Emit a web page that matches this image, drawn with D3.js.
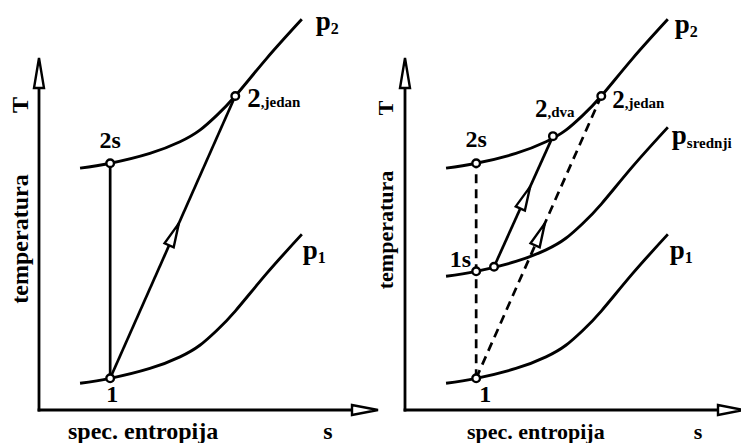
<!DOCTYPE html>
<html>
<head>
<meta charset="utf-8">
<script src="https://cdn.jsdelivr.net/npm/d3@7"></script>
<style>
  body { margin: 0; background: #fff; }
</style>
</head>
<body>
<script>
// isobare u T-s dijagramu (s, T u proizvoljnim jedinicama)
const p2Curve = [[1.24, 6.87], [2.15, 7.01], [3.35, 7.29], [4.26, 7.62], [4.86, 7.95], [5.37, 8.37], [5.93, 8.92], [6.88, 9.99], [7.94, 11.10]];
const pMidCurve = [[1.24, 3.80], [2.15, 3.94], [3.35, 4.22], [4.26, 4.55], [4.86, 4.88], [5.37, 5.30], [5.93, 5.85], [6.88, 6.92], [7.94, 8.03]];
const p1Curve = [[1.24, 0.76], [2.15, 0.90], [3.35, 1.18], [4.26, 1.51], [4.86, 1.84], [5.37, 2.26], [5.93, 2.81], [6.88, 3.88], [7.94, 4.99]];

// stanja
const leftStates = { s1: [2.15, 0.90], s2s: [2.15, 7.01], s2a: [5.93, 8.92] };
const rightStates = { s1: [2.15, 0.90], s1s: [2.15, 3.94], sMid: [2.69, 4.07], s2b: [4.47, 7.78], s2s: [2.15, 7.01], s2a: [5.93, 8.92] };

const axisLabels = { x: "spec. entropija", xUnit: "s", y: "temperatura", yUnit: "T" };

const FONT = "'Liberation Serif', 'Times New Roman', 'DejaVu Serif', serif";
const W = 741, H = 443;
const svg = d3.select("body").append("svg").attr("width", W).attr("height", H);

const y = d3.scaleLinear().domain([0, 10]).range([410, 58]);
const line = d3.line().curve(d3.curveNatural);

function txt(g) {
  return g.append("text").attr("font-family", FONT).attr("font-weight", "bold").attr("fill", "#000");
}

function drawAxes(g, x, fs, lx) {
  const x0 = x(0), y0 = y(0);
  g.append("line").attr("x1", x0).attr("y1", y0 + 1.4).attr("x2", x0).attr("y2", y(10) + 30)
    .attr("stroke", "#000").attr("stroke-width", 2.8);
  g.append("line").attr("x1", x0 - 1.4).attr("y1", y0).attr("x2", x(10) - 19).attr("y2", y0)
    .attr("stroke", "#000").attr("stroke-width", 2.8);
  // otvorene strelice na osima
  g.append("path")
    .attr("d", `M${x0},${y(10)} L${x0 + 5},${y(10) + 30} L${x0 - 5},${y(10) + 30} Z`)
    .attr("fill", "#fff").attr("stroke", "#000").attr("stroke-width", 2.4);
  const xt = x(10) + 8;
  g.append("path")
    .attr("d", `M${xt},${y0} L${xt - 26},${y0 - 5} L${xt - 26},${y0 + 5} Z`)
    .attr("fill", "#fff").attr("stroke", "#000").attr("stroke-width", 2.4);

  txt(g).attr("x", lx.spec).attr("y", 439).style("font-size", fs + "px").text(axisLabels.x);
  txt(g).attr("x", lx.s).attr("y", 439).attr("text-anchor", "middle").style("font-size", fs + "px").text(axisLabels.xUnit);
  txt(g).attr("transform", `translate(${lx.rot},${lx.tY}) rotate(-90)`)
    .attr("text-anchor", "middle").style("font-size", fs + "px").text(axisLabels.yUnit);
  txt(g).attr("transform", `translate(${lx.rot},${lx.tempY}) rotate(-90)`)
    .attr("text-anchor", "middle").style("font-size", fs + "px").text(axisLabels.y);
}

function drawCurve(g, x, data) {
  g.append("path").attr("d", line(data.map(d => [x(d[0]), y(d[1])])))
    .attr("fill", "none").attr("stroke", "#000").attr("stroke-width", 2.9);
}

function drawSeg(g, x, a, b, dashed) {
  g.append("line").attr("x1", x(a[0])).attr("y1", y(a[1])).attr("x2", x(b[0])).attr("y2", y(b[1]))
    .attr("stroke", "#000").attr("stroke-width", 2.7)
    .attr("stroke-dasharray", dashed ? "9,6" : null);
}

function drawArrow(g, x, a, b, t) {
  const ax = x(a[0]), ay = y(a[1]), bx = x(b[0]), by = y(b[1]);
  const len = Math.hypot(bx - ax, by - ay);
  const ux = (bx - ax) / len, uy = (by - ay) / len;
  const cx = ax + (bx - ax) * t, cy = ay + (by - ay) * t;
  const tip = [cx + ux * 12, cy + uy * 12];
  const base = [cx - ux * 12, cy - uy * 12];
  const px = -uy * 5, py = ux * 5;
  g.append("path")
    .attr("d", `M${tip[0]},${tip[1]} L${base[0] + px},${base[1] + py} L${base[0] - px},${base[1] - py} Z`)
    .attr("fill", "#fff").attr("stroke", "#000").attr("stroke-width", 2.4);
}

function drawPoint(g, x, p) {
  g.append("circle").attr("cx", x(p[0])).attr("cy", y(p[1])).attr("r", 3.8)
    .attr("fill", "#fff").attr("stroke", "#000").attr("stroke-width", 2.4);
}

function label(g, px, py, main, sub, fs, subFs, anchor, subDy) {
  const t = txt(g).attr("x", px).attr("y", py).attr("text-anchor", anchor || "start")
    .style("font-size", fs + "px");
  t.append("tspan").text(main);
  if (sub) t.append("tspan").attr("dy", subDy || 0).style("font-size", subFs + "px").text(sub);
}

// lijevi dijagram
const xL = d3.scaleLinear().domain([0, 10]).range([39, 370]);
const gL = svg.append("g");
drawAxes(gL, xL, 24, { spec: 68, s: 328, rot: 28, tY: 105, tempY: 239 });
drawCurve(gL, xL, p2Curve);
drawCurve(gL, xL, p1Curve);
drawSeg(gL, xL, leftStates.s1, leftStates.s2s, false);
drawSeg(gL, xL, leftStates.s1, leftStates.s2a, false);
drawArrow(gL, xL, leftStates.s1, leftStates.s2a, 0.51);
Object.values(leftStates).forEach(p => drawPoint(gL, xL, p));
label(gL, xL(leftStates.s2s[0]), y(leftStates.s2s[1]) - 15, "2s", null, 24, 0, "middle");
label(gL, xL(leftStates.s1[0]) + 2, y(leftStates.s1[1]) + 24, "1", null, 24, 0, "middle");
label(gL, xL(leftStates.s2a[0]) + 12, y(leftStates.s2a[1]) + 11, "2", ",jedan", 27, 15, "start", 0);
label(gL, xL(p2Curve[8][0]) + 14, y(p2Curve[8][1]) + 11, "p", "2", 27, 16, "start", 4);
label(gL, xL(p1Curve[8][0]) + 1, y(p1Curve[8][1]) + 25, "p", "1", 27, 16, "start", 4);

// desni dijagram
const xR = d3.scaleLinear().domain([0, 10]).range([405, 736]);
const gR = svg.append("g");
drawAxes(gR, xR, 22, { spec: 467, s: 698, rot: 393, tY: 108, tempY: 230 });
drawCurve(gR, xR, p2Curve);
drawCurve(gR, xR, pMidCurve);
drawCurve(gR, xR, p1Curve);
drawSeg(gR, xR, rightStates.s1, rightStates.s2s, true);
drawSeg(gR, xR, rightStates.s1, rightStates.s2a, true);
drawSeg(gR, xR, rightStates.sMid, rightStates.s2b, false);
drawArrow(gR, xR, rightStates.s1, rightStates.s2a, 0.51);
drawArrow(gR, xR, rightStates.sMid, rightStates.s2b, 0.53);
Object.values(rightStates).forEach(p => drawPoint(gR, xR, p));
label(gR, xR(rightStates.s2s[0]), y(rightStates.s2s[1]) - 16, "2s", null, 24, 0, "middle");
label(gR, xR(rightStates.s1s[0]) - 5, y(rightStates.s1s[1]) - 4, "1s", null, 24, 0, "end");
label(gR, xR(rightStates.s1[0]) + 9, y(rightStates.s1[1]) + 24, "1", null, 24, 0, "middle");
label(gR, xR(rightStates.s2b[0]) - 18, y(rightStates.s2b[1]) - 19, "2", ",dva", 25, 15, "start", 0);
label(gR, xR(rightStates.s2a[0]) + 11, y(rightStates.s2a[1]) + 12, "2", ",jedan", 25, 15, "start", 0);
label(gR, xR(p2Curve[8][0]) + 7, y(p2Curve[8][1]) + 14, "p", "2", 27, 16, "start", 4);
label(gR, xR(pMidCurve[8][0]) + 4, y(pMidCurve[8][1]) + 17, "p", "srednji", 27, 15, "start", 4);
label(gR, xR(p1Curve[8][0]) + 2, y(p1Curve[8][1]) + 25, "p", "1", 27, 16, "start", 4);
</script>
</body>
</html>
